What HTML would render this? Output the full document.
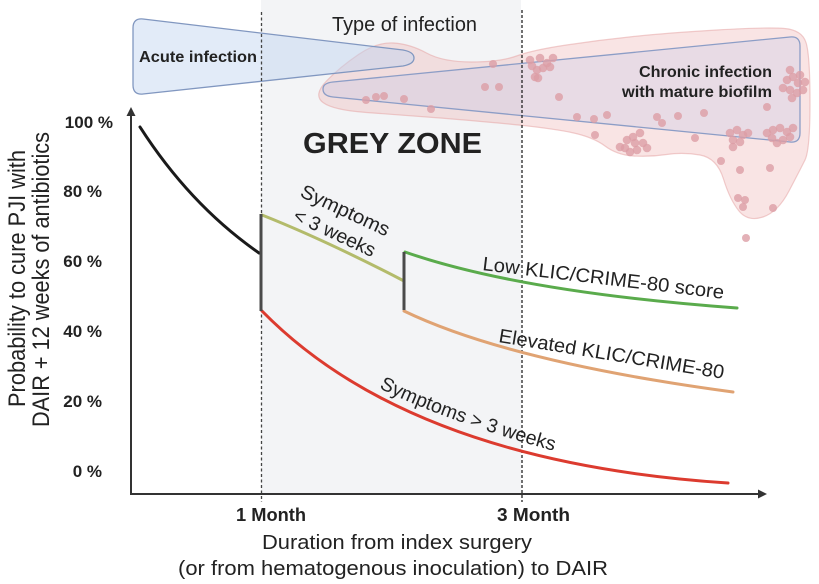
<!DOCTYPE html>
<html><head><meta charset="utf-8"><style>
html,body{margin:0;padding:0;background:#fff;}
svg{display:block;}
text{font-family:"Liberation Sans",Arial,sans-serif;fill:#222;}
</style></head><body>
<svg width="819" height="584" viewBox="0 0 819 584" xmlns="http://www.w3.org/2000/svg">
<rect x="0" y="0" width="819" height="584" fill="#fff"/>
<!-- grey zone -->
<rect x="261" y="0" width="260" height="494" fill="#f3f4f6"/>
<!-- pink blob -->
<path d="M 326.5,81 Q 340,67 358.5,54.5 Q 377,42 393.5,43 Q 410,44 426.5,53 Q 443,62 471.5,62 Q 500,62 516.5,56 Q 533,50 566.5,45 Q 600,40 633.5,36.5 Q 667,33 717,30 Q 767,27 784.5,28.5 Q 802,30 806,42.5 Q 810,55 810,102.5 Q 810,150 805,160 Q 800,170 789,191 Q 778,212 763,217 Q 748,222 739,211 Q 730,200 723.5,179 Q 717,158 700,155 Q 683,152 666.5,154.5 Q 650,157 633.5,156 Q 617,155 605,146 Q 593,137 571.5,132.5 Q 550,128 508.5,124 Q 467,120 433.5,117.5 Q 400,115 366.5,112.5 Q 333,110 323,102.5 Q 313,95 326.5,81 Z" fill="rgba(240,185,185,0.38)" stroke="rgba(230,165,165,0.55)" stroke-width="1.2"/>
<!-- acute triangle -->
<path d="M 143,19 L 403,50 Q 414,52 414,58 Q 414,64 403,66 L 143,94 Q 133,95 133,85 L 133,28 Q 133,18 143,19 Z" fill="rgba(190,210,240,0.45)" stroke="#8197c0" stroke-width="1.3"/>
<!-- chronic triangle -->
<path d="M 333,82 L 790,37 Q 800,36 800,46 L 800,133 Q 800,143 790,142 L 333,97 Q 323,96 323,89 Q 323,83 333,82 Z" fill="rgba(175,185,230,0.22)" stroke="#8c9dc6" stroke-width="1.3"/>
<!-- dots -->
<g fill="#dc9ea5" fill-opacity="0.8">
<circle cx="366" cy="100" r="4"/><circle cx="376" cy="97" r="4"/><circle cx="384" cy="96" r="4"/><circle cx="404" cy="99" r="4"/><circle cx="431" cy="109" r="4"/>
<circle cx="493" cy="64" r="4"/><circle cx="485" cy="87" r="4"/><circle cx="499" cy="87" r="4"/>
<circle cx="530" cy="60" r="4.3"/><circle cx="540" cy="58" r="4.3"/><circle cx="547" cy="63" r="4.3"/><circle cx="537" cy="70" r="4.3"/><circle cx="543" cy="68" r="4.3"/><circle cx="535" cy="77" r="4.3"/><circle cx="553" cy="58" r="4.3"/><circle cx="550" cy="67" r="4.3"/><circle cx="538" cy="78" r="4.3"/><circle cx="532" cy="66" r="4.3"/>
<circle cx="559" cy="97" r="4"/><circle cx="577" cy="117" r="4"/><circle cx="594" cy="119" r="4"/><circle cx="607" cy="115" r="4"/><circle cx="595" cy="135" r="4"/>
<circle cx="620" cy="147" r="4.3"/><circle cx="627" cy="140" r="4.3"/><circle cx="633" cy="137" r="4.3"/><circle cx="640" cy="133" r="4.3"/><circle cx="643" cy="143" r="4.3"/><circle cx="637" cy="150" r="4.3"/><circle cx="630" cy="152" r="4.3"/><circle cx="647" cy="148" r="4.3"/><circle cx="625" cy="148" r="4.3"/><circle cx="635" cy="143" r="4.3"/>
<circle cx="657" cy="117" r="4"/><circle cx="662" cy="123" r="4"/><circle cx="678" cy="116" r="4"/><circle cx="704" cy="113" r="4"/><circle cx="695" cy="138" r="4"/><circle cx="721" cy="161" r="4"/>
<circle cx="730" cy="133" r="4.3"/><circle cx="737" cy="130" r="4.3"/><circle cx="743" cy="135" r="4.3"/><circle cx="733" cy="140" r="4.3"/><circle cx="740" cy="142" r="4.3"/><circle cx="748" cy="133" r="4.3"/><circle cx="733" cy="147" r="4.3"/>
<circle cx="740" cy="170" r="4"/><circle cx="770" cy="168" r="4"/><circle cx="738" cy="198" r="4"/><circle cx="745" cy="200" r="4"/><circle cx="743" cy="207" r="4"/><circle cx="773" cy="208" r="4"/><circle cx="746" cy="238" r="4"/><circle cx="767" cy="107" r="4"/>
<circle cx="787" cy="80" r="4.3"/><circle cx="793" cy="77" r="4.3"/><circle cx="798" cy="83" r="4.3"/><circle cx="790" cy="90" r="4.3"/><circle cx="797" cy="93" r="4.3"/><circle cx="803" cy="90" r="4.3"/><circle cx="792" cy="98" r="4.3"/><circle cx="783" cy="88" r="4.3"/><circle cx="800" cy="75" r="4.3"/><circle cx="790" cy="70" r="4.3"/><circle cx="805" cy="82" r="4.3"/>
<circle cx="767" cy="133" r="4.3"/><circle cx="773" cy="130" r="4.3"/><circle cx="780" cy="128" r="4.3"/><circle cx="787" cy="132" r="4.3"/><circle cx="793" cy="128" r="4.3"/><circle cx="783" cy="140" r="4.3"/><circle cx="777" cy="143" r="4.3"/><circle cx="790" cy="137" r="4.3"/><circle cx="772" cy="138" r="4.3"/>
</g>
<!-- dashed lines -->
<line x1="261.5" y1="12" x2="261.5" y2="502" stroke="#444" stroke-width="1.3" stroke-dasharray="3 2.5"/>
<line x1="522" y1="10" x2="522" y2="502" stroke="#222" stroke-width="1.3" stroke-dasharray="3 2"/>
<!-- axes -->
<line x1="131" y1="495" x2="131" y2="114" stroke="#333" stroke-width="2"/>
<polygon points="131,107 126.5,116 135.5,116" fill="#333"/>
<line x1="130" y1="494" x2="759" y2="494" stroke="#333" stroke-width="2"/>
<polygon points="767,494 758,489.5 758,498.5" fill="#333"/>
<!-- curves -->
<g fill="none" stroke-width="3" stroke-linecap="round">
<path d="M140,127 Q190,205 259,253" stroke="#1a1a1a"/>
<path d="M262,215 Q325,240 404,281" stroke="#b3bb6b"/>
<path d="M405,252 Q520,292 737,308" stroke="#5aab4c"/>
<path d="M404,311 Q510,362 733,392" stroke="#e0a373"/>
<path d="M262,311 Q410,462 728,483" stroke="#dc3b2f"/>
<line x1="261" y1="214" x2="261" y2="311" stroke="#4a4a4a" stroke-linecap="butt"/>
<line x1="404" y1="252" x2="404" y2="310" stroke="#4a4a4a" stroke-linecap="butt"/>
</g>
<!-- top texts -->
<text x="332" y="31" font-size="20" fill="#333" textLength="145" lengthAdjust="spacingAndGlyphs">Type of infection</text>
<text x="139" y="62" font-size="15.5" font-weight="bold" textLength="118" lengthAdjust="spacingAndGlyphs">Acute infection</text>
<text x="639" y="77" font-size="15.5" font-weight="bold" textLength="133" lengthAdjust="spacingAndGlyphs">Chronic infection</text>
<text x="622" y="97" font-size="15.5" font-weight="bold" textLength="150" lengthAdjust="spacingAndGlyphs">with mature biofilm</text>
<text x="303" y="153" font-size="29" font-weight="bold" fill="#333" textLength="179" lengthAdjust="spacingAndGlyphs">GREY ZONE</text>
<!-- tick labels -->
<g font-size="17" font-weight="bold" text-anchor="end">
<text x="113" y="128">100 %</text>
<text x="102" y="197">80 %</text>
<text x="102" y="267">60 %</text>
<text x="102" y="337">40 %</text>
<text x="102" y="407">20 %</text>
<text x="102" y="477">0 %</text>
</g>
<!-- y label -->
<text transform="translate(25,278.5) scale(1.12,1) rotate(-90)" font-size="21.5" text-anchor="middle" textLength="257" lengthAdjust="spacingAndGlyphs">Probability to cure PJI with</text>
<text transform="translate(49,279.5) scale(1.12,1) rotate(-90)" font-size="21.5" text-anchor="middle" textLength="295" lengthAdjust="spacingAndGlyphs">DAIR + 12 weeks of antibiotics</text>
<!-- curve labels -->
<text transform="translate(299,196) rotate(25)" font-size="19.5" textLength="96" lengthAdjust="spacingAndGlyphs">Symptoms</text>
<text transform="translate(292,220) rotate(25)" font-size="19.5" textLength="88" lengthAdjust="spacingAndGlyphs">&lt; 3 weeks</text>
<text transform="translate(482,270) rotate(6.8)" font-size="19.5" textLength="243" lengthAdjust="spacingAndGlyphs">Low KLIC/CRIME-80 score</text>
<text transform="translate(498,342) rotate(9.3)" font-size="19.5" textLength="228" lengthAdjust="spacingAndGlyphs">Elevated KLIC/CRIME-80</text>
<path id="redlab" d="M 379,388 Q 454,425 580,458" fill="none"/>
<text font-size="19.5"><textPath href="#redlab">Symptoms &gt; 3 weeks</textPath></text>
<!-- x labels -->
<text x="236" y="521" font-size="18" font-weight="bold" textLength="70" lengthAdjust="spacingAndGlyphs">1 Month</text>
<text x="497" y="521" font-size="18" font-weight="bold" textLength="73" lengthAdjust="spacingAndGlyphs">3 Month</text>
<text x="262" y="549" font-size="20" textLength="270" lengthAdjust="spacingAndGlyphs">Duration from index surgery</text>
<text x="178" y="575" font-size="20" textLength="430" lengthAdjust="spacingAndGlyphs">(or from hematogenous inoculation) to DAIR</text>
</svg>
</body></html>
